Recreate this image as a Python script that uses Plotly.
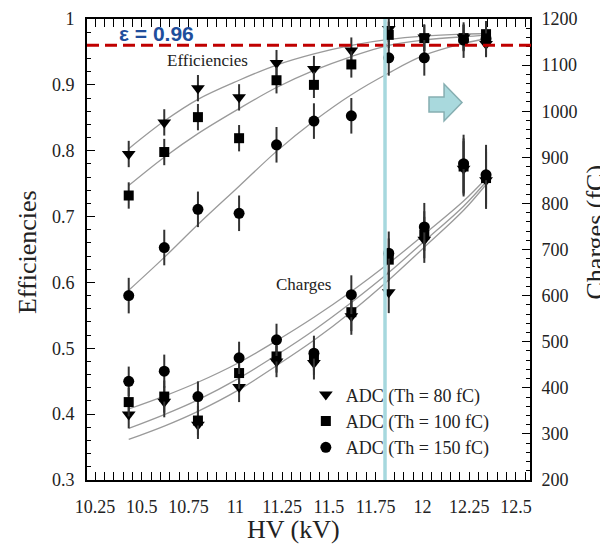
import plotly.graph_objects as go

# ---------------- data ----------------
hv = [10.43, 10.62, 10.80, 11.02, 11.22, 11.42, 11.62, 11.82, 12.01, 12.22, 12.34]

eff_80 = [0.795, 0.843, 0.895, 0.881, 0.933, 0.924, 0.952, 0.985, 0.972, 0.972, 0.962]
eff_100 = [0.732, 0.798, 0.851, 0.819, 0.907, 0.900, 0.931, 0.976, 0.971, 0.971, 0.977]
eff_150 = [0.580, 0.653, 0.711, 0.705, 0.809, 0.845, 0.853, 0.941, 0.941, 0.968, 0.970]
eff_err_80 = [0.02] * 11
eff_err_100 = [0.02] * 11
eff_err_150 = [0.027] * 11

fit_eff_80 = [0.803, 0.845, 0.878, 0.907, 0.930, 0.947, 0.960, 0.969, 0.974, 0.977, 0.978]
fit_eff_100 = [0.747, 0.790, 0.826, 0.864, 0.896, 0.922, 0.943, 0.960, 0.968, 0.973, 0.975]
fit_eff_150 = [0.588, 0.638, 0.688, 0.746, 0.799, 0.845, 0.885, 0.918, 0.945, 0.963, 0.970]

q_80 = [342, 370, 320, 402, 457, 454, 555, 607, 721, 875, 850]
q_100 = [369, 381, 329, 432, 468, 465, 564, 678, 732, 880, 855]
q_150 = [414, 436, 381, 465, 504, 475, 602, 692, 749, 886, 862]
q_err_80 = [30, 34, 31, 33, 34, 36, 40, 45, 50, 60, 62]
q_err_100 = [31, 35, 32, 34, 35, 37, 41, 46, 51, 61, 64]
q_err_150 = [32, 36, 33, 35, 35, 38, 42, 47, 52, 63, 65]

fit_q_80 = [288, 317, 349, 396, 448, 503, 565, 634, 705, 785, 841]
fit_q_100 = [312, 342, 374, 421, 471, 525, 585, 650, 718, 794, 847]
fit_q_150 = [354, 382, 412, 455, 502, 553, 609, 670, 733, 805, 854]

series_names = ["ADC (Th = 80 fC)", "ADC (Th = 100 fC)", "ADC (Th = 150 fC)"]
symbols = ["triangle-down", "square", "circle"]
msizes = [12, 10, 11]

eps_level = 0.96
hv_mark = 11.8

# ---------------- figure ----------------
SERIF = "Liberation Serif, Times New Roman, serif"
fig = go.Figure()

fit_color = "#9a9a9a"
for fy in [fit_eff_80, fit_eff_100, fit_eff_150]:
    fig.add_trace(go.Scatter(x=hv, y=fy, mode="lines", line=dict(color=fit_color, width=1.3, shape="spline"),
                             showlegend=False, hoverinfo="skip"))
for fy in [fit_q_80, fit_q_100, fit_q_150]:
    fig.add_trace(go.Scatter(x=hv, y=fy, mode="lines", yaxis="y2",
                             line=dict(color=fit_color, width=1.3, shape="spline"),
                             showlegend=False, hoverinfo="skip"))

effs = [eff_80, eff_100, eff_150]
eerrs = [eff_err_80, eff_err_100, eff_err_150]
qs = [q_80, q_100, q_150]
qerrs = [q_err_80, q_err_100, q_err_150]

for i in range(3):
    fig.add_trace(go.Scatter(
        x=hv, y=effs[i], mode="markers", showlegend=False,
        marker=dict(symbol=symbols[i], size=msizes[i], color="black"),
        error_y=dict(type="data", array=eerrs[i], color="#333333", thickness=2, width=0)))
for i in range(3):
    fig.add_trace(go.Scatter(
        x=hv, y=qs[i], mode="markers", yaxis="y2", name=series_names[i],
        marker=dict(symbol=symbols[i], size=msizes[i], color="black"),
        error_y=dict(type="data", array=qerrs[i], color="#333333", thickness=2, width=0)))

tickfont = dict(family=SERIF, size=18, color="#222222")
axis_common = dict(showline=True, linewidth=2, linecolor="black", ticks="inside",
                   ticklen=8, tickwidth=1.3, tickcolor="black", showgrid=False, zeroline=False,
                   tickfont=tickfont, automargin=False)

fig.update_layout(
    width=600, height=548,
    margin=dict(l=87, r=70, t=19, b=68),
    paper_bgcolor="white", plot_bgcolor="white",
    xaxis=dict(range=[10.207, 12.575], tick0=10.25, dtick=0.25, mirror="allticks",
               minor=dict(dtick=0.05, ticklen=4, tickcolor="black", ticks="inside"),
               ticklabelstandoff=9, **axis_common),
    yaxis=dict(range=[0.3, 1.0], dtick=0.1, mirror=True,
               minor=dict(dtick=0.02, ticklen=4, tickcolor="black", ticks="inside"),
               ticklabelstandoff=7, **axis_common),
    yaxis2=dict(range=[200, 1200], dtick=100, overlaying="y", side="right",
                minor=dict(dtick=20, ticklen=4, tickcolor="black", ticks="inside"),
                ticklabelstandoff=6, **axis_common),
    legend=dict(x=0.494, y=0.225, xanchor="left", yanchor="top", bgcolor="rgba(0,0,0,0)",
                font=dict(family=SERIF, size=18, color="#222222"), tracegroupgap=0),
    showlegend=True,
)

# epsilon threshold & HV marker
fig.add_shape(type="line", xref="paper", yref="y", x0=0, x1=1.005, y0=eps_level, y1=eps_level,
              line=dict(color="#c00000", width=3, dash="12px,6px"), layer="above")
fig.add_shape(type="line", xref="x", yref="paper", x0=hv_mark, x1=hv_mark, y0=0, y1=1,
              line=dict(color="#a6d8de", width=3.5), layer="above")
# block arrow
fig.add_shape(type="path", xref="paper", yref="paper",
              path="M 0.772,0.8308 L 0.806,0.8308 L 0.806,0.859 L 0.8465,0.8189 L 0.806,0.7787 L 0.806,0.7983 L 0.772,0.7983 Z",
              fillcolor="#a9d9dd", line=dict(color="#86aeb1", width=1.5), layer="above")

ann_common = dict(xref="paper", yref="paper", showarrow=False, xanchor="center", yanchor="middle")
fig.add_annotation(text="<b>ε = 0.96</b>", x=0.157, y=0.9696,
                   font=dict(family="Liberation Sans, Arial, sans-serif", size=21, color="#1f4e9c"), **ann_common)
fig.add_annotation(text="Efficiencies", x=0.271, y=0.911,
                   font=dict(family=SERIF, size=17, color="#222222"), **ann_common)
fig.add_annotation(text="Charges", x=0.4876, y=0.425,
                   font=dict(family=SERIF, size=17, color="#222222"), **ann_common)
fig.add_annotation(text="Efficiencies", x=-0.133, y=0.4946, textangle=-90,
                   font=dict(family=SERIF, size=26, color="#222222"), **ann_common)
fig.add_annotation(text="HV (kV)", x=0.467, y=-0.108,
                   font=dict(family=SERIF, size=26, color="#222222"), **ann_common)
fig.add_annotation(text="Charges (fC)", xref="paper", yref="paper", x=1.1106, y=0.538,
                   textangle=-90, showarrow=False, xanchor="left", yanchor="middle",
                   font=dict(family=SERIF, size=26, color="#222222"))

fig.write_html("out.html", config={"displayModeBar": False},
               post_script="document.body.style.margin='0px';document.body.style.padding='0px';")
